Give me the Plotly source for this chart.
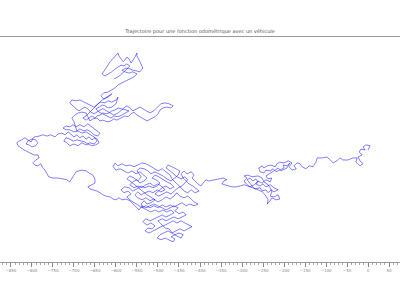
import plotly.graph_objects as go

title_text = "Trajectoire pour une fonction odométrique avec un véhicule"

# Trajectory (x in the axis units, y in the same scale)
seg_right_x = [0, 5, -5, -12, -7, -17, -21, -14, -24, -19, -12, -19, -29, -26, -36, -48, -60, -67, -74, -83, -90, -98, -110, -121, -124, -131, -140, -148, -157, -162, -169, -176, -171, -181, -188, -181, -190, -200, -210, -217, -221, -231, -240, -248, -252, -260, -257, -248, -243, -233, -226, -219, -210, -200, -202, -193, -186, -193, -207, -214, -224, -233, -243, -238, -229, -233, -243, -252, -262, -267, -257, -250, -243, -233, -224, -214, -224, -231, -238, -243, -252, -257, -269, -276, -281, -288, -281, -274, -267, -262, -271, -281, -290, -295, -288, -295, -286, -276, -262, -252, -248, -238, -233, -229, -233, -224, -214, -210, -219, -229, -233, -240, -238, -245, -252, -262, -276, -286, -295, -305, -314, -324, -333, -340, -348, -343, -336, -345, -357, -369, -379, -386, -393, -398]
seg_right_y = [0, 10, 12, 7, 0, 2, -5, -12, -17, -26, -33, -38, -29, -19, -19, -24, -24, -19, -26, -31, -24, -17, -19, -19, -29, -40, -38, -45, -40, -33, -31, -38, -45, -48, -40, -31, -26, -31, -29, -33, -40, -36, -38, -43, -38, -43, -52, -55, -48, -50, -45, -52, -48, -43, -36, -38, -31, -43, -50, -43, -50, -55, -62, -69, -67, -76, -71, -79, -74, -81, -86, -81, -88, -83, -90, -95, -100, -95, -102, -95, -98, -90, -93, -86, -79, -71, -67, -74, -69, -76, -83, -88, -81, -74, -67, -62, -60, -64, -62, -67, -76, -83, -90, -100, -110, -112, -107, -117, -119, -114, -121, -129, -119, -107, -100, -95, -90, -86, -83, -86, -88, -88, -86, -83, -81, -74, -71, -67, -69, -71, -74, -71, -79, -86]

seg_main_x = [-405, -412, -419, -414, -421, -431, -438, -445, -440, -433, -426, -417, -409, -402, -412, -421, -429, -438, -445, -452, -460, -467, -471, -481, -490, -500, -510, -519, -529, -538, -548, -557, -567, -576, -586, -595, -602, -607, -600, -590, -581, -571, -562, -552, -543, -533, -526, -533, -543, -550, -560, -567, -557, -548, -538, -529, -519, -510, -500, -490, -483, -493, -502, -512, -521, -531, -540, -548, -555, -548, -538, -529, -519, -510, -500, -490, -481, -471, -462, -455, -448, -438, -429, -421, -414, -405, -414, -424, -433, -443, -452, -462, -471, -481, -490, -500, -510, -519, -529, -538, -548, -557, -567, -574, -564, -571, -581, -588, -579, -569, -560, -550, -540, -531, -521, -512, -502, -495, -505, -514, -507, -498, -488, -479, -469, -462, -471, -481, -490, -500, -507, -498, -488, -479, -469, -460, -452, -443, -436, -429, -436, -445, -455, -462, -471, -481, -476, -467, -457, -448, -452, -460, -469, -479, -488, -498, -507, -517, -524, -533, -543, -550, -540, -548, -557, -567, -574, -564, -555, -545, -536, -526, -517, -507, -517, -526, -533, -540, -536, -526, -517, -507, -498, -488, -479, -469, -462, -471, -481, -490, -500, -510, -519, -529, -536, -526, -517, -507, -514, -524, -531, -521, -512, -502, -493, -483, -474, -464, -455, -445, -436, -426, -419, -429, -438, -448, -457, -467, -476, -486, -495, -502, -493, -483, -474, -464, -460, -469, -460, -450, -440, -445, -455, -464, -474, -483, -493, -500, -490, -481, -471, -462, -452, -443, -433, -440, -450, -460, -452, -462, -471, -481, -490, -500, -510, -519, -529, -538, -545, -552, -560, -567, -576, -586, -593, -600, -607]
seg_main_y = [-81, -74, -67, -60, -52, -57, -50, -57, -67, -74, -81, -86, -93, -98, -102, -95, -102, -98, -90, -83, -76, -69, -60, -52, -45, -50, -43, -38, -33, -31, -36, -40, -36, -38, -33, -38, -31, -40, -48, -45, -50, -55, -50, -57, -52, -60, -67, -74, -79, -71, -76, -83, -90, -86, -90, -83, -79, -86, -81, -88, -95, -100, -95, -102, -98, -102, -107, -100, -107, -114, -119, -114, -121, -117, -124, -119, -112, -117, -110, -102, -110, -114, -110, -117, -124, -129, -133, -129, -133, -126, -131, -136, -131, -136, -131, -138, -133, -138, -133, -138, -131, -126, -119, -112, -105, -98, -102, -95, -88, -90, -98, -93, -86, -90, -86, -90, -86, -79, -71, -67, -60, -64, -71, -76, -81, -88, -93, -86, -90, -98, -105, -110, -105, -100, -105, -98, -90, -86, -79, -71, -64, -69, -64, -57, -50, -43, -36, -40, -45, -50, -60, -67, -74, -69, -62, -57, -52, -57, -50, -45, -43, -50, -64, -74, -67, -62, -69, -76, -83, -93, -98, -107, -112, -119, -126, -129, -121, -129, -138, -143, -148, -143, -148, -143, -148, -143, -150, -155, -160, -155, -160, -164, -169, -164, -171, -179, -174, -181, -188, -186, -193, -198, -193, -188, -183, -179, -174, -169, -174, -169, -174, -179, -183, -188, -193, -188, -193, -198, -193, -198, -202, -210, -214, -210, -214, -219, -212, -207, -202, -198, -202, -210, -205, -200, -188, -186, -176, -169, -164, -169, -164, -160, -164, -160, -155, -148, -152, -145, -138, -133, -138, -143, -138, -133, -129, -133, -138, -133, -143, -136, -129, -121, -117, -119, -114, -119, -117]

seg_left_x = [-614, -624, -631, -638, -645, -655, -662, -667, -657, -650, -650, -655, -664, -671, -681, -688, -695, -700, -705, -710, -717, -726, -738, -750, -760, -764, -769, -774, -779, -786, -793, -798, -791, -783, -786, -795, -805, -812, -819, -826, -833, -836, -831, -824, -817, -810, -802, -798, -791, -786, -791, -800, -807, -814, -810, -800, -793, -783]
seg_left_y = [-112, -110, -107, -102, -98, -95, -93, -88, -83, -79, -69, -60, -55, -50, -48, -50, -52, -60, -67, -76, -71, -69, -67, -67, -64, -57, -48, -43, -33, -38, -36, -31, -24, -19, -12, -12, -7, -5, 0, 5, 10, 17, 21, 24, 29, 24, 19, 26, 24, 17, 10, 7, 12, 14, 21, 26, 31, 33]

seg_west_x = [-774, -764, -755, -745, -738, -729, -721, -714, -707, -700, -693, -686, -679, -671, -664, -657, -650, -645, -652, -662, -671, -681, -690, -700, -710, -717, -724, -719, -710, -702, -693, -683, -674, -667, -657, -648, -640, -645, -655, -662, -671, -681, -690, -700, -710, -719, -726, -719, -710, -702, -695, -686, -676, -667, -660, -652, -645, -638, -643, -652, -660, -669, -676, -686, -693]
seg_west_y = [36, 33, 36, 31, 38, 40, 36, 43, 38, 31, 36, 29, 33, 26, 31, 24, 29, 21, 14, 17, 12, 17, 10, 14, 10, 17, 21, 29, 26, 21, 24, 21, 19, 14, 10, 12, 17, 26, 33, 38, 43, 40, 45, 43, 48, 48, 52, 57, 55, 60, 55, 60, 55, 62, 57, 50, 45, 40, 33, 36, 43, 48, 45, 50, 45]

seg_mid_x = [-700, -705, -698, -690, -681, -671, -667, -662, -655, -645, -638, -631, -621, -612, -605, -598, -588, -579, -571, -564, -557, -550, -543, -533, -526, -517, -507, -500, -495, -488, -479, -469, -464, -474, -483, -493, -502, -510, -519, -526, -536, -543, -552, -560, -567, -574, -581, -588, -595, -605, -614, -624, -631, -638, -645, -652, -660, -667, -674, -681, -688, -695, -702, -710, -705, -695, -686, -676, -669, -660, -652, -643, -636, -626, -619, -610, -600, -595, -600, -610, -619, -626, -633, -640, -648, -640, -631, -621, -612, -605, -595, -586, -576, -569, -576, -586, -595, -602, -610, -617, -624, -631, -638, -645, -650, -657, -664, -671, -679]
seg_mid_y = [67, 76, 83, 88, 90, 88, 79, 69, 74, 76, 69, 71, 67, 69, 74, 71, 76, 81, 79, 86, 90, 83, 79, 74, 69, 74, 79, 86, 95, 100, 102, 100, 105, 110, 112, 110, 102, 93, 88, 93, 98, 102, 98, 93, 100, 105, 100, 93, 88, 83, 88, 93, 98, 95, 90, 86, 90, 98, 102, 98, 93, 98, 105, 112, 119, 117, 119, 114, 110, 105, 102, 110, 114, 112, 117, 114, 119, 126, 110, 102, 100, 105, 107, 102, 98, 90, 86, 81, 76, 81, 79, 83, 88, 93, 95, 98, 100, 95, 93, 88, 86, 88, 83, 81, 76, 81, 76, 71, 76]

seg_top_x = [-669, -657, -648, -640, -633, -626, -617, -610, -619, -629, -636, -629, -619, -610, -602, -595, -586, -576, -567, -557, -550, -560, -569, -579, -586, -576, -567, -560, -550, -543, -536, -540, -545, -550, -550, -555, -560, -564, -569, -574, -579, -583, -588, -593, -595, -600, -605, -610, -614, -619, -624, -629, -633, -626, -617, -610, -602, -595, -588, -581, -574, -567, -576, -586, -595, -605]
seg_top_y = [83, 95, 105, 112, 119, 124, 129, 133, 126, 121, 129, 136, 138, 143, 148, 155, 160, 164, 169, 174, 181, 186, 183, 186, 190, 195, 193, 190, 188, 186, 195, 205, 214, 224, 231, 221, 212, 207, 217, 221, 214, 210, 217, 224, 231, 226, 221, 214, 210, 202, 195, 188, 181, 176, 181, 186, 193, 198, 202, 200, 205, 200, 190, 181, 174, 169]

traj_x = seg_right_x + seg_main_x + seg_left_x + seg_west_x + seg_mid_x + seg_top_x
traj_y = seg_right_y + seg_main_y + seg_left_y + seg_west_y + seg_mid_y + seg_top_y

x_range = [-876, 76]
y_range = [-267, 269]

fig = go.Figure()
fig.add_trace(go.Scatter(
    x=traj_x, y=traj_y, mode="lines",
    line=dict(color="rgb(0,0,255)", width=0.5),
    hoverinfo="skip", showlegend=False,
))

fig.update_layout(
    width=400, height=300,
    margin=dict(l=0, r=0, t=37, b=38),
    paper_bgcolor="white", plot_bgcolor="white",
    title=dict(text=title_text, x=0.5, xanchor="center",
               yref="container", y=1 - 31 / 300, yanchor="middle",
               font=dict(family="DejaVu Sans", size=5, color="#555")),
    xaxis=dict(
        range=x_range, showgrid=False, zeroline=False,
        showline=True, linecolor="#999", linewidth=1, mirror=True,
        ticks="outside", ticklen=4, tickcolor="#888", tickwidth=1,
        dtick=50, tick0=0,
        tickfont=dict(family="DejaVu Sans", size=4, color="#888"),
        minor=dict(dtick=10, ticks="outside", ticklen=2, tickcolor="#aaa"),
    ),
    yaxis=dict(range=y_range, visible=False),
)

fig.write_html("out.html")
